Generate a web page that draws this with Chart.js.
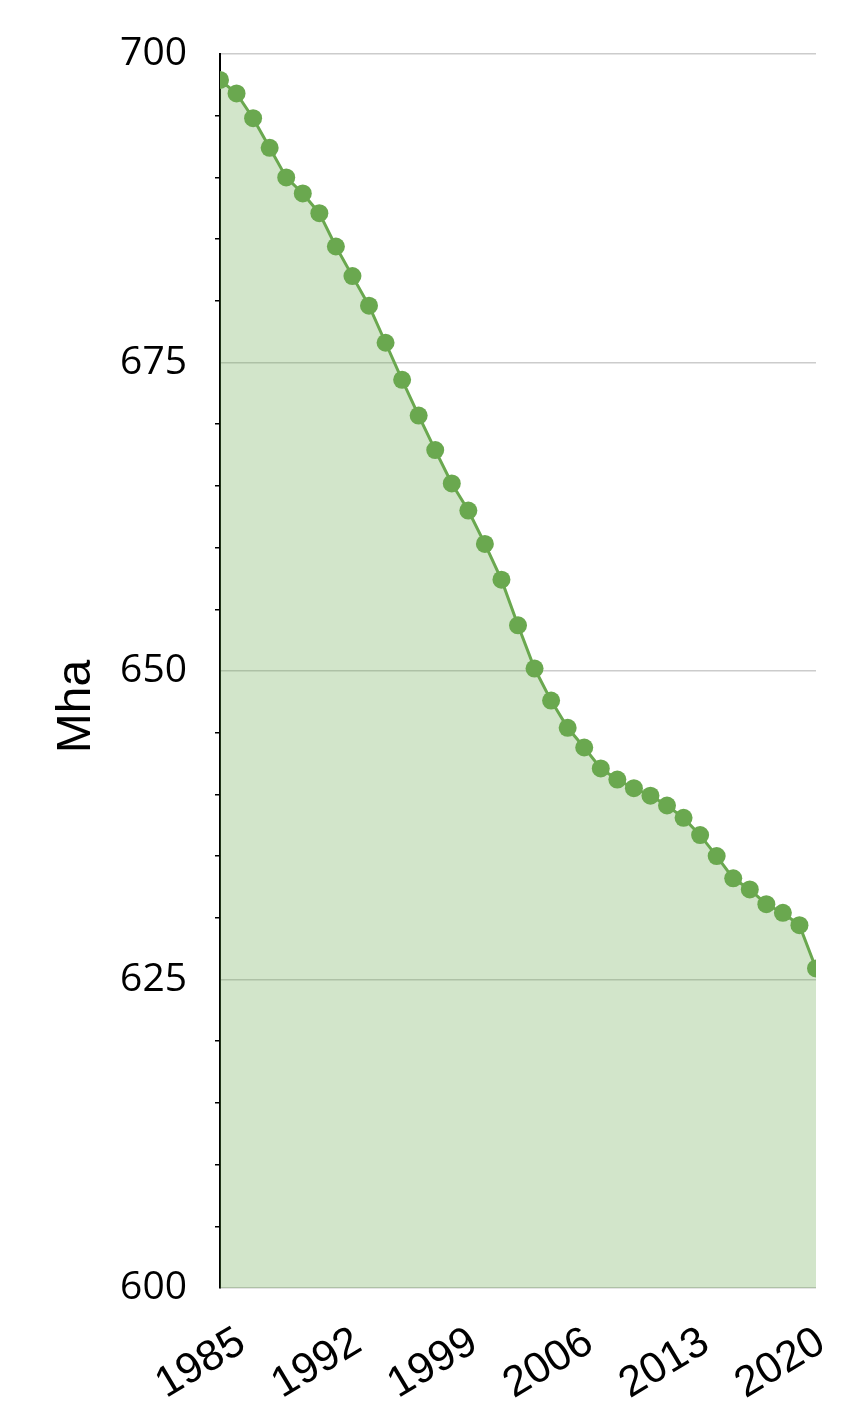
<!DOCTYPE html>
<html>
<head>
<meta charset="utf-8">
<title>Mha</title>
<script src="https://cdn.jsdelivr.net/npm/chart.js@4.4.1/dist/chart.umd.min.js"></script>
<style>
  html, body { margin: 0; padding: 0; background: #fff; }
  #wrap { width: 846px; height: 1413px; }
</style>
</head>
<body>
<div id="wrap"><canvas id="areaChart" width="846" height="1413"></canvas></div>
<script>
const years = [];
for (let y = 1985; y <= 2021; y++) years.push(String(y));

// Mha
const area = [
    697.9, 696.8, 694.8, 692.4, 690.0, 688.7, 687.1, 684.4, 682.0, 679.6,
    676.6, 673.6, 670.7, 667.9, 665.2, 663.0, 660.3, 657.4, 653.7, 650.2,
    647.6, 645.4, 643.8, 642.1, 641.2, 640.5, 639.9, 639.1, 638.1, 636.7,
    635.0, 633.2, 632.3, 631.1, 630.4, 629.4, 625.9
];

const yMin = 600;
const yMax = 700;
const yStep = 5;
const yLabelEvery = 25;
const xLabelEvery = 7;
const axisTitle = 'Mha';

const green = '#6aa84f';

// y title sits at the middle of the whole canvas, not the plot
const sideTitle = {
    id: 'sideTitle',
    afterDraw(chart) {
        const c = chart.ctx;
        c.save();
        c.translate(90, chart.height / 2);
        c.rotate(-Math.PI / 2);
        c.font = '48px "Liberation Sans", Arial, sans-serif';
        c.fillStyle = '#000';
        c.textAlign = 'center';
        c.textBaseline = 'alphabetic';
        c.fillText(axisTitle, 0, 0);
        c.restore();
    }
};

new Chart(document.getElementById('areaChart').getContext('2d'), {
    type: 'line',
    data: {
        labels: years,
        datasets: [{
            data: area,
            clip: 0,
            borderColor: green,
            borderWidth: 3,
            backgroundColor: 'rgba(106, 168, 79, 0.3)',
            fill: 'start',
            tension: 0,
            pointRadius: 9,
            pointHoverRadius: 9,
            pointBorderWidth: 0,
            pointBackgroundColor: green
        }]
    },
    options: {
        responsive: false,
        animation: false,
        events: [],
        layout: { padding: { top: 54, right: 30, bottom: 0, left: 0 } },
        plugins: {
            legend: { display: false },
            tooltip: { enabled: false }
        },
        scales: {
            x: {
                offset: false,
                grid: { display: false, drawTicks: false },
                border: { display: false },
                ticks: {
                    autoSkip: false,
                    minRotation: 31,
                    maxRotation: 31,
                    padding: 29,
                    labelOffset: 22,
                    color: '#000',
                    font: { family: '"Liberation Sans", Arial, sans-serif', size: 43 },
                    callback: function (val, i) {
                        return i % xLabelEvery === 0 ? this.getLabelForValue(val) : '';
                    }
                },
                afterFit: s => {
                    s.height = 125;
                    s.paddingLeft = 0;
                    s.paddingRight = 0;
                }
            },
            y: {
                min: yMin,
                max: yMax,
                grid: {
                    color: ctx => ctx.tick.value % yLabelEvery === 0 ? '#cccccc' : 'transparent',
                    lineWidth: 1.5,
                    tickLength: 5,
                    tickColor: ctx => ctx.tick.value % yLabelEvery === 0 ? 'transparent' : '#000',
                    tickWidth: 1.5
                },
                border: { color: '#000', width: 2 },
                ticks: {
                    stepSize: yStep,
                    padding: 28,
                    color: '#000',
                    font: { family: '"Open Sans", sans-serif', size: 39 },
                    callback: v => v % yLabelEvery === 0 ? v : ''
                },
                afterFit: s => {
                    s.width = 220;
                    s.paddingTop = 0;
                    s.paddingBottom = 0;
                }
            }
        }
    },
    plugins: [sideTitle]
});
</script>
</body>
</html>
